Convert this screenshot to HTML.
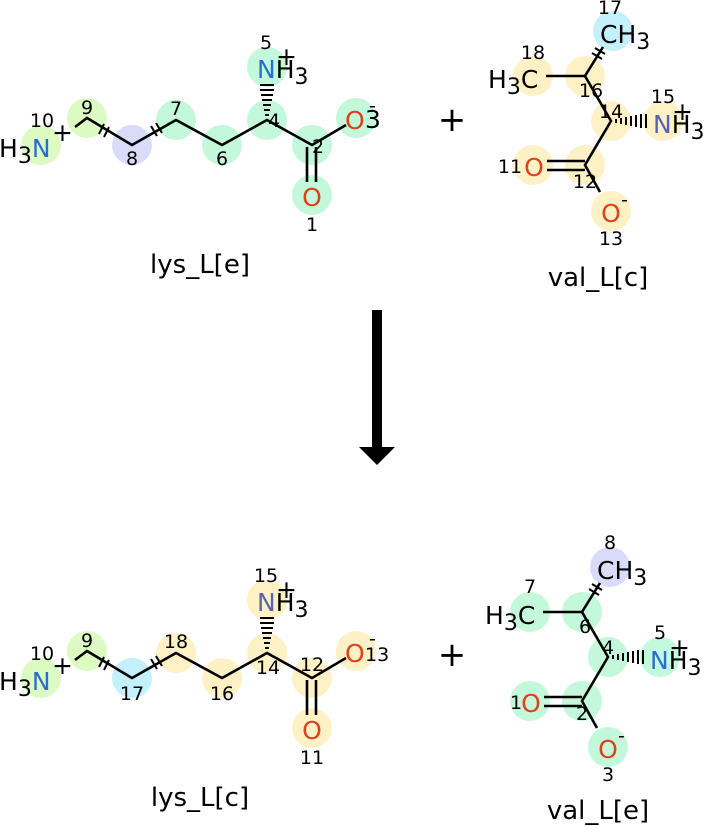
<!DOCTYPE html>
<html><head><meta charset="utf-8"><style>
html,body{margin:0;padding:0;background:#fff;}
svg{display:block;font-family:"DejaVu Sans","Liberation Sans",sans-serif;}
.a{font-size:25px;}
.n{font-size:19px;fill:#000;}
.s{font-size:26px;}
.b{stroke:#000;stroke-width:2.6;fill:none;}
.B{fill:#2a6fd0;} .R{fill:#e0401a;} .P{fill:#5a62b8;}
</style></head><body>
<svg width="705" height="826" viewBox="0 0 705 826" xmlns="http://www.w3.org/2000/svg">
<defs>
<g id="lysb">
  <polyline class="b" points="75,127 87,118 132,145 176,120 222,145 267,120 312,145 346,125"/>
  <line class="b" x1="307" y1="147" x2="307" y2="182"/>
  <line class="b" x1="316" y1="147" x2="316" y2="182"/>
  <g stroke="#000" stroke-width="2">
    <line x1="104" y1="124" x2="99" y2="134"/><line x1="109" y1="127" x2="104" y2="137"/>
    <line x1="151" y1="126" x2="157" y2="136"/><line x1="156" y1="123" x2="162" y2="133"/>
    <line x1="265" y1="115" x2="269" y2="115"/><line x1="264" y1="110" x2="270" y2="110"/>
    <line x1="263" y1="105" x2="271" y2="105"/><line x1="262" y1="100" x2="272" y2="100"/>
    <line x1="261" y1="95" x2="273" y2="95"/><line x1="260" y1="90" x2="274" y2="90"/>
    <line x1="260" y1="85" x2="274" y2="85"/>
  </g>
</g>
<g id="valb">
  <line class="b" x1="546" y1="76" x2="585" y2="76"/>
  <polyline class="b" points="603,47 585,76 611,121 585,165 600,192"/>
  <line class="b" x1="547" y1="161" x2="585" y2="161"/>
  <line class="b" x1="547" y1="170" x2="585" y2="170"/>
  <g stroke="#000" stroke-width="2">
    <line x1="592" y1="53" x2="602" y2="59"/><line x1="595" y1="48" x2="605" y2="54"/>
    <line x1="616" y1="119" x2="616" y2="123"/><line x1="621" y1="118" x2="621" y2="124"/>
    <line x1="626" y1="117" x2="626" y2="125"/><line x1="631" y1="116" x2="631" y2="126"/>
    <line x1="636" y1="115" x2="636" y2="127"/><line x1="641" y1="114" x2="641" y2="128"/>
    <line x1="646" y1="114" x2="646" y2="128"/>
  </g>
</g>
</defs>

<!-- TOP LEFT lys_L[e] -->
<g opacity="0.9">
<circle cx="41" cy="145" r="20" fill="#d9fbbd"/>
<circle cx="87" cy="118" r="20" fill="#d9fbbd"/>
<circle cx="132" cy="145" r="20" fill="#d6d6fb"/>
<circle cx="176" cy="120" r="20" fill="#bdf8d8"/>
<circle cx="222" cy="145" r="20" fill="#bdf8d8"/>
<circle cx="267" cy="120" r="20" fill="#bdf8d8"/>
<circle cx="267" cy="67" r="20" fill="#bdf8d8"/>
<circle cx="312" cy="145" r="20" fill="#bdf8d8"/>
<circle cx="312" cy="195" r="20" fill="#bdf8d8"/>
<circle cx="356" cy="118" r="20" fill="#bdf8d8"/>
</g>
<use href="#lysb"/>
<text x="-1" y="157" class="a">H<tspan dy="6" font-size="22">3</tspan><tspan dy="-6" class="B">N</tspan></text>
<text x="52" y="141" class="a">+</text>
<text x="42" y="127" class="n" text-anchor="middle">10</text>
<text x="87" y="114" class="n" text-anchor="middle">9</text>
<text x="132" y="165" class="n" text-anchor="middle">8</text>
<text x="176" y="115" class="n" text-anchor="middle">7</text>
<text x="222" y="165" class="n" text-anchor="middle">6</text>
<text x="274" y="127" class="n" text-anchor="middle">4</text>
<text x="266" y="49" class="n" text-anchor="middle">5</text>
<text x="257" y="78" class="a"><tspan class="B">N</tspan>H<tspan dy="6" font-size="22">3</tspan></text>
<text x="276" y="65" class="a">+</text>
<text x="318" y="153" class="n" text-anchor="middle">2</text>
<text x="345" y="129" class="a R">O</text>
<text x="365" y="128" class="a" font-size="22">3</text>
<text x="369" y="112" class="n">-</text>
<text x="312" y="206" class="a R" text-anchor="middle">O</text>
<text x="312" y="231" class="n" text-anchor="middle">1</text>
<text x="200" y="273" class="s" text-anchor="middle">lys_L[e]</text>

<!-- TOP RIGHT val_L[c] -->
<g opacity="0.9">
<circle cx="613" cy="31" r="20" fill="#bdeffb"/>
<circle cx="533" cy="76" r="20" fill="#fff0c0"/>
<circle cx="585" cy="76" r="20" fill="#fff0c0"/>
<circle cx="611" cy="121" r="20" fill="#fff0c0"/>
<circle cx="663" cy="121" r="20" fill="#fff0c0"/>
<circle cx="585" cy="165" r="20" fill="#fff0c0"/>
<circle cx="533" cy="165" r="20" fill="#fff0c0"/>
<circle cx="611" cy="211" r="20" fill="#fff0c0"/>
</g>
<use href="#valb"/>
<text x="600" y="43" class="a">CH<tspan dy="6" font-size="22">3</tspan></text>
<text x="610" y="14" class="n" text-anchor="middle">17</text>
<text x="533" y="59" class="n" text-anchor="middle">18</text>
<text x="488" y="88" class="a">H<tspan dy="6" font-size="22">3</tspan><tspan dy="-6">C</tspan></text>
<text x="591" y="97" class="n" text-anchor="middle">16</text>
<text x="611" y="118" class="n" text-anchor="middle">14</text>
<text x="663" y="103" class="n" text-anchor="middle">15</text>
<text x="653" y="133" class="a"><tspan class="P">N</tspan>H<tspan dy="6" font-size="22">3</tspan></text>
<text x="672" y="120" class="a">+</text>
<text x="510" y="173" class="n" text-anchor="middle">11</text>
<text x="534" y="176" class="a R" text-anchor="middle">O</text>
<text x="585" y="188" class="n" text-anchor="middle">12</text>
<text x="611" y="222" class="a R" text-anchor="middle">O</text>
<text x="621" y="206" class="n">-</text>
<text x="611" y="245" class="n" text-anchor="middle">13</text>
<text x="598" y="286" class="s" text-anchor="middle">val_L[c]</text>

<text x="452" y="131" font-size="34" text-anchor="middle">+</text>
<text x="452" y="666" font-size="34" text-anchor="middle">+</text>

<!-- arrow -->
<rect x="372" y="310" width="10" height="138" fill="#000"/>
<polygon points="359,447 395,447 377,465" fill="#000"/>

<!-- BOTTOM LEFT lys_L[c] -->
<g transform="translate(0,533)">
<g opacity="0.9">
<circle cx="41" cy="145" r="20" fill="#d9fbbd"/>
<circle cx="87" cy="118" r="20" fill="#d9fbbd"/>
<circle cx="132" cy="145" r="20" fill="#bdeffb"/>
<circle cx="176" cy="120" r="20" fill="#fff0c0"/>
<circle cx="222" cy="145" r="20" fill="#fff0c0"/>
<circle cx="267" cy="120" r="20" fill="#fff0c0"/>
<circle cx="267" cy="67" r="20" fill="#fff0c0"/>
<circle cx="312" cy="145" r="20" fill="#fff0c0"/>
<circle cx="312" cy="195" r="20" fill="#fff0c0"/>
<circle cx="356" cy="118" r="20" fill="#fff0c0"/>
</g>
<use href="#lysb"/>
<text x="-1" y="157" class="a">H<tspan dy="6" font-size="22">3</tspan><tspan dy="-6" class="B">N</tspan></text>
<text x="52" y="141" class="a">+</text>
<text x="42" y="127" class="n" text-anchor="middle">10</text>
<text x="87" y="114" class="n" text-anchor="middle">9</text>
<text x="132" y="167" class="n" text-anchor="middle">17</text>
<text x="176" y="115" class="n" text-anchor="middle">18</text>
<text x="222" y="167" class="n" text-anchor="middle">16</text>
<text x="268" y="141" class="n" text-anchor="middle">14</text>
<text x="266" y="49" class="n" text-anchor="middle">15</text>
<text x="257" y="78" class="a"><tspan class="P">N</tspan>H<tspan dy="6" font-size="22">3</tspan></text>
<text x="276" y="65" class="a">+</text>
<text x="312" y="138" class="n" text-anchor="middle">12</text>
<text x="345" y="129" class="a R">O</text>
<text x="365" y="128" class="n">13</text>
<text x="369" y="112" class="n">-</text>
<text x="312" y="206" class="a R" text-anchor="middle">O</text>
<text x="312" y="231" class="n" text-anchor="middle">11</text>
<text x="200" y="273" class="s" text-anchor="middle">lys_L[c]</text>
</g>

<!-- BOTTOM RIGHT val_L[e] -->
<g transform="translate(-3,536)">
<g opacity="0.9">
<circle cx="613" cy="31" r="20" fill="#d6d6fb"/>
<circle cx="533" cy="76" r="20" fill="#bdf8d8"/>
<circle cx="585" cy="76" r="20" fill="#bdf8d8"/>
<circle cx="611" cy="121" r="20" fill="#bdf8d8"/>
<circle cx="663" cy="121" r="20" fill="#bdf8d8"/>
<circle cx="585" cy="165" r="20" fill="#bdf8d8"/>
<circle cx="533" cy="165" r="20" fill="#bdf8d8"/>
<circle cx="611" cy="211" r="20" fill="#bdf8d8"/>
</g>
<use href="#valb"/>
<text x="600" y="43" class="a">CH<tspan dy="6" font-size="22">3</tspan></text>
<text x="613" y="13" class="n" text-anchor="middle">8</text>
<text x="533" y="57" class="n" text-anchor="middle">7</text>
<text x="488" y="88" class="a">H<tspan dy="6" font-size="22">3</tspan><tspan dy="-6">C</tspan></text>
<text x="588" y="97" class="n" text-anchor="middle">6</text>
<text x="611" y="118" class="n" text-anchor="middle">4</text>
<text x="663" y="103" class="n" text-anchor="middle">5</text>
<text x="653" y="133" class="a"><tspan class="B">N</tspan>H<tspan dy="6" font-size="22">3</tspan></text>
<text x="672" y="120" class="a">+</text>
<text x="519" y="173" class="n" text-anchor="middle">1</text>
<text x="534" y="176" class="a R" text-anchor="middle">O</text>
<text x="585" y="184" class="n" text-anchor="middle">2</text>
<text x="611" y="222" class="a R" text-anchor="middle">O</text>
<text x="621" y="206" class="n">-</text>
<text x="611" y="245" class="n" text-anchor="middle">3</text>
<text x="601" y="283" class="s" text-anchor="middle">val_L[e]</text>
</g>
</svg>
</body></html>
